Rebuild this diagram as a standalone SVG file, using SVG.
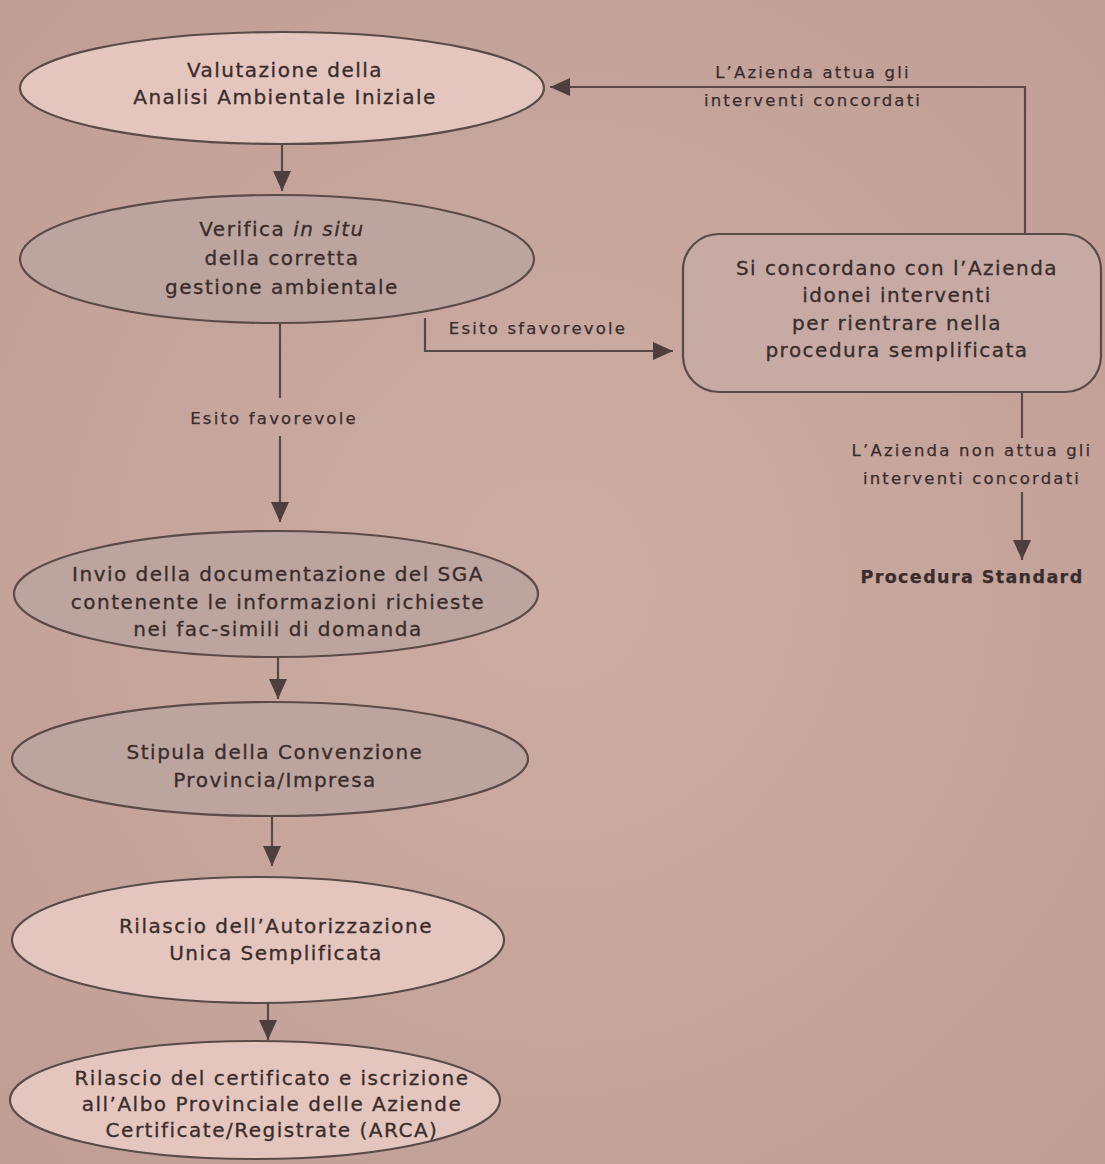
<svg xmlns="http://www.w3.org/2000/svg" width="1105" height="1164" viewBox="0 0 1105 1164">
<style>
.node{stroke:#5c4a47;stroke-width:2.2}
.light{fill:#e4c6be}
.dark{fill:#bca59e}
.box{fill:#c6aaa3}
.t{font-family:"DejaVu Sans","Open Sans",sans-serif;font-size:20px;letter-spacing:1.5px;fill:#3a2c2b;stroke:#3a2c2b;stroke-width:0.3px;text-anchor:middle}
.lbl{font-family:"DejaVu Sans","Open Sans",sans-serif;font-size:16.5px;letter-spacing:2.2px;fill:#3a2c2b;stroke:#3a2c2b;stroke-width:0.25px;text-anchor:middle}
.b{font-weight:bold;font-size:17.5px;letter-spacing:1.4px}
.conn{fill:none;stroke:#5a4845;stroke-width:2.2}
</style>
<defs>
<marker id="ah" viewBox="0 0 20 20" refX="20" refY="10" markerWidth="20" markerHeight="20" markerUnits="userSpaceOnUse" orient="auto">
<path d="M0,1 L20,10 L0,19 Z" fill="#4e3e3c"/>
</marker>
<radialGradient id="mott" cx="50%" cy="50%" r="70%">
<stop offset="0" stop-color="#cdaca4"/>
<stop offset="1" stop-color="#c09e96"/>
</radialGradient>
</defs>
<rect x="0" y="0" width="1105" height="1164" fill="url(#mott)"/>

<g id="connectors">
<path class="conn" d="M282,144 V191" marker-end="url(#ah)"/>
<path class="conn" d="M280,323 V398 M280,436 V522" marker-end="url(#ah)"/>
<path class="conn" d="M278,657 V699" marker-end="url(#ah)"/>
<path class="conn" d="M272,815 V866" marker-end="url(#ah)"/>
<path class="conn" d="M268,1003 V1040" marker-end="url(#ah)"/>
<path class="conn" d="M425,318 V351 H673" marker-end="url(#ah)"/>
<path class="conn" d="M1025,236 V87 H550" marker-end="url(#ah)"/>
<path class="conn" d="M1022,392 V438 M1022,492 V560" marker-end="url(#ah)"/>
<text class="lbl" x="813" y="78">L’Azienda attua gli</text>
<text class="lbl" x="813" y="106">interventi concordati</text>
<text class="lbl" x="538" y="334">Esito sfavorevole</text>
<text class="lbl" x="274" y="424">Esito favorevole</text>
<text class="lbl" x="972" y="456">L’Azienda non attua gli</text>
<text class="lbl" x="972" y="484">interventi concordati</text>
</g>

<g id="n1">
<ellipse class="node light" cx="282" cy="88" rx="262" ry="56"/>
<text class="t" x="285" y="77">Valutazione della</text>
<text class="t" x="285" y="104">Analisi Ambientale Iniziale</text>
</g>

<g id="n2">
<ellipse class="node dark" cx="277" cy="259" rx="257" ry="64"/>
<text class="t" x="282" y="236">Verifica <tspan font-style="italic">in situ</tspan></text>
<text class="t" x="282" y="265">della corretta</text>
<text class="t" x="282" y="294">gestione ambientale</text>
</g>

<g id="n3">
<ellipse class="node dark" cx="276" cy="594" rx="262" ry="63"/>
<text class="t" x="278" y="581">Invio della documentazione del SGA</text>
<text class="t" x="278" y="609">contenente le informazioni richieste</text>
<text class="t" x="278" y="636">nei fac-simili di domanda</text>
</g>

<g id="n4">
<ellipse class="node dark" cx="270" cy="759" rx="258" ry="57"/>
<text class="t" x="275" y="759">Stipula della Convenzione</text>
<text class="t" x="275" y="787">Provincia/Impresa</text>
</g>

<g id="n5">
<ellipse class="node light" cx="258" cy="940" rx="246" ry="63"/>
<text class="t" x="276" y="933">Rilascio dell’Autorizzazione</text>
<text class="t" x="276" y="960">Unica Semplificata</text>
</g>

<g id="n6">
<ellipse class="node light" cx="255" cy="1100" rx="245" ry="59"/>
<text class="t" x="272" y="1085">Rilascio del certificato e iscrizione</text>
<text class="t" x="272" y="1111">all’Albo Provinciale delle Aziende</text>
<text class="t" x="272" y="1137">Certificate/Registrate (ARCA)</text>
</g>

<g id="n7">
<rect class="node box" x="683" y="234" width="418" height="158" rx="36" ry="36"/>
<text class="t" x="897" y="275">Si concordano con l’Azienda</text>
<text class="t" x="897" y="302">idonei interventi</text>
<text class="t" x="897" y="330">per rientrare nella</text>
<text class="t" x="897" y="357">procedura semplificata</text>
</g>

<g id="n8">
<text class="lbl b" x="972" y="583">Procedura Standard</text>
</g>
</svg>
